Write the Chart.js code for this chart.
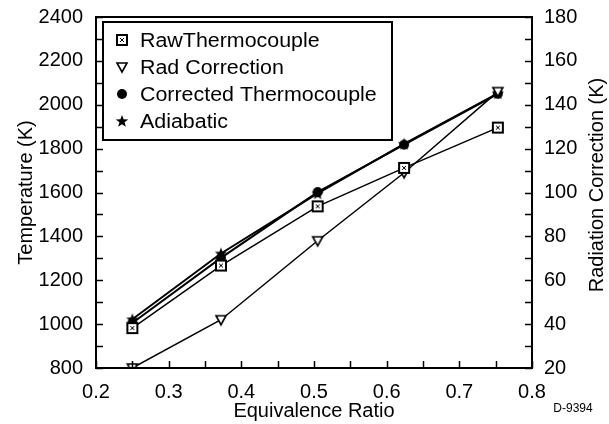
<!DOCTYPE html>
<html>
<head>
<meta charset="utf-8">
<script src="https://cdn.jsdelivr.net/npm/chart.js@4/dist/chart.umd.min.js"></script>
<style>
  html, body { margin: 0; padding: 0; background: #fff; }
</style>
</head>
<body>
<canvas id="myChart" width="609" height="424"></canvas>
<script>
var phi = [0.25, 0.372, 0.505, 0.624, 0.753];
var rawTC = [982, 1267, 1537, 1712, 1896];
var radCorr = [20, 42, 78, 109, 146];
var corrTC = [1005, 1302, 1602, 1818, 2050];
var adiabatic = [1022, 1322, 1596, 1822, 2052];

var xTicks = [0.2, 0.3, 0.4, 0.5, 0.6, 0.7, 0.8];

function pts(ys) {
  return phi.map(function (x, i) { return {x: x, y: ys[i]}; });
}

function makeMarker(kind) {
  var c = document.createElement('canvas');
  c.width = 14; c.height = 14;
  var g = c.getContext('2d');
  g.fillStyle = '#000';
  g.strokeStyle = '#000';
  if (kind === 'raw') {
    g.fillRect(1, 1, 12, 12);
    g.fillStyle = '#fff';
    g.fillRect(3, 3, 8, 8);
    g.fillStyle = '#000';
    g.fillRect(5, 5, 1, 1); g.fillRect(8, 5, 1, 1);
    g.fillRect(5, 8, 1, 1); g.fillRect(8, 8, 1, 1);
    g.fillRect(6, 6, 2, 2);
  } else if (kind === 'rad') {
    g.lineWidth = 1.6;
    g.fillStyle = '#fff';
    g.beginPath();
    g.moveTo(2, 3); g.lineTo(12, 3); g.lineTo(7, 12); g.closePath();
    g.fill(); g.stroke();
  } else if (kind === 'corr') {
    g.beginPath(); g.arc(7, 7, 5, 0, Math.PI * 2); g.fill();
  } else {
    g.beginPath();
    for (var i = 0; i < 10; i++) {
      var r = i % 2 === 0 ? 6.5 : 2.7;
      var a = -Math.PI / 2 + i * Math.PI / 5;
      var px = 7 + r * Math.cos(a), py = 7.5 + r * Math.sin(a);
      if (i === 0) g.moveTo(px, py); else g.lineTo(px, py);
    }
    g.closePath(); g.fill();
  }
  return c;
}

var markers = {
  raw: makeMarker('raw'),
  rad: makeMarker('rad'),
  corr: makeMarker('corr'),
  adia: makeMarker('adia')
};

var FONT = 'Liberation Sans, Arial, sans-serif';

function wideText(ctx, s, x, y, k) {
  ctx.save();
  ctx.translate(x, y);
  ctx.scale(k, 1);
  ctx.fillText(s, 0, 0);
  ctx.restore();
}

var boxPlugin = {
  id: 'boxPlugin',
  afterDraw: function (chart) {
    var ctx = chart.ctx;
    var a = chart.chartArea;
    var sx = chart.scales.x, sy = chart.scales.y, sy2 = chart.scales.y2;
    ctx.save();
    ctx.strokeStyle = '#000';
    ctx.lineWidth = 2;
    ctx.strokeRect(a.left, a.top, a.right - a.left, a.bottom - a.top);
    ctx.lineWidth = 1.5;
    ctx.beginPath();
    var t = 7, v, p;
    for (v = 0.2; v <= 0.8001; v += 0.05) {
      p = Math.round(sx.getPixelForValue(v)) + 0.5;
      ctx.moveTo(p, a.bottom); ctx.lineTo(p, a.bottom - t);
    }
    for (v = 800; v <= 2400; v += 100) {
      p = Math.round(sy.getPixelForValue(v)) + 0.5;
      ctx.moveTo(a.left, p); ctx.lineTo(a.left + t, p);
    }
    for (v = 20; v <= 180; v += 10) {
      p = Math.round(sy2.getPixelForValue(v)) + 0.5;
      ctx.moveTo(a.right, p); ctx.lineTo(a.right - t, p);
    }
    ctx.stroke();

    // legend box
    var lx = a.left + 7, ly = a.top + 5, lw = 289, lh = 118;
    ctx.fillStyle = '#fff';
    ctx.fillRect(lx, ly, lw, lh);
    ctx.lineWidth = 2;
    ctx.strokeRect(lx, ly, lw, lh);
    ctx.font = '20px ' + FONT;
    ctx.fillStyle = '#000';
    ctx.textBaseline = 'middle';
    chart.data.datasets.forEach(function (ds, i) {
      var cy = ly + 18 + i * 27;
      ctx.drawImage(ds.pointStyle, lx + 19 - 7, cy - 7);
      wideText(ctx, ds.label, lx + 37, cy + 1, 1.07);
    });

    // right axis title, reads bottom to top
    ctx.save();
    ctx.translate(597, 185);
    ctx.rotate(-Math.PI / 2);
    ctx.textAlign = 'center';
    ctx.fillText('Radiation Correction (K)', 0, 0);
    ctx.restore();

    ctx.font = '12px ' + FONT;
    ctx.textAlign = 'center';
    ctx.fillText('D-9394', 573, 409);
    ctx.restore();
  }
};

var ctx = document.getElementById('myChart').getContext('2d');
var myChart = new Chart(ctx, {
  type: 'scatter',
  data: {
    datasets: [{
      label: 'RawThermocouple',
      data: pts(rawTC),
      yAxisID: 'y',
      showLine: true,
      borderColor: '#000',
      borderWidth: 1.5,
      pointStyle: markers.raw,
      order: 1
    }, {
      label: 'Rad Correction',
      data: pts(radCorr),
      yAxisID: 'y2',
      showLine: true,
      borderColor: '#000',
      borderWidth: 1.5,
      pointStyle: markers.rad,
      order: 2
    }, {
      label: 'Corrected Thermocouple',
      data: pts(corrTC),
      yAxisID: 'y',
      showLine: true,
      borderColor: '#000',
      borderWidth: 2,
      pointStyle: markers.corr,
      order: 3
    }, {
      label: 'Adiabatic',
      data: pts(adiabatic),
      yAxisID: 'y',
      showLine: true,
      borderColor: '#000',
      borderWidth: 2,
      pointStyle: markers.adia,
      order: 4
    }]
  },
  options: {
    responsive: false,
    animation: false,
    layout: { padding: { top: 15 } },
    plugins: {
      legend: { display: false },
      tooltip: { enabled: false }
    },
    scales: {
      x: {
        type: 'linear',
        min: 0.2, max: 0.8,
        afterBuildTicks: function (s) { s.ticks = xTicks.map(function (v) { return {value: v}; }); },
        afterFit: function (s) { s.height = 56; },
        grid: { display: false },
        border: { display: false },
        ticks: {
          padding: 4, color: '#000', maxRotation: 0, autoSkip: false,
          font: { family: FONT, size: 20 },
          callback: function (v) { return v.toFixed(1); }
        },
        title: {
          display: true, text: 'Equivalence Ratio', color: '#000',
          font: { family: FONT, size: 20 }, padding: { top: 0, bottom: 1 }
        }
      },
      y: {
        position: 'left',
        min: 800, max: 2400,
        afterFit: function (s) { s.width = 96; },
        grid: { display: false },
        border: { display: false },
        ticks: {
          stepSize: 200, padding: 5, color: '#000', font: { family: FONT, size: 20 },
          callback: function (v) { return String(v); }
        },
        title: {
          display: true, text: 'Temperature (K)', color: '#000',
          font: { family: FONT, size: 20 }, padding: { top: 14, bottom: 0 }
        }
      },
      y2: {
        position: 'right',
        min: 20, max: 180,
        afterFit: function (s) { s.width = 77; },
        grid: { display: false },
        border: { display: false },
        ticks: {
          stepSize: 20, padding: 4, color: '#000', font: { family: FONT, size: 20 },
          callback: function (v) { return String(v); }
        }
      }
    }
  },
  plugins: [boxPlugin]
});
</script>
</body>
</html>
